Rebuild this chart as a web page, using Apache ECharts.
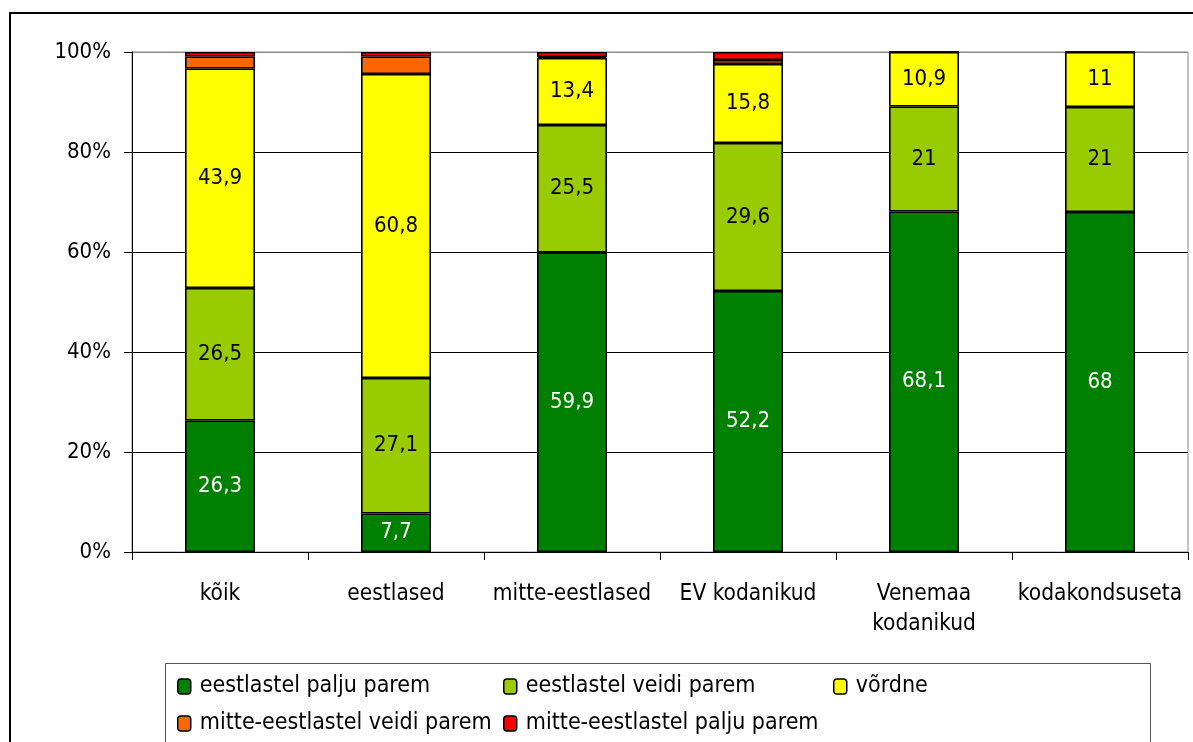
<!DOCTYPE html>
<html>
<head>
<meta charset="utf-8">
<script src="https://cdn.jsdelivr.net/npm/echarts@6/dist/echarts.min.js"></script>
<style>html,body{margin:0;padding:0;background:#fff}#c{width:1193px;height:742px}</style>
</head>
<body>
<div id="c"></div>
<script>
const categories = ['kõik', 'eestlased', 'mitte-eestlased', 'EV kodanikud', 'Venemaa\nkodanikud', 'kodakondsuseta'];
const seriesNames = ['eestlastel palju parem', 'eestlastel veidi parem', 'võrdne', 'mitte-eestlastel veidi parem', 'mitte-eestlastel palju parem'];
const paljuParem = [26.3, 7.7, 59.9, 52.2, 68.1, 68];
const veidiParem = [26.5, 27.1, 25.5, 29.6, 21, 21];
const vordne = [43.9, 60.8, 13.4, 15.8, 10.9, 11];
const mitteVeidi = [2.4, 3.5, 0.2, 0.8, 0, 0];
const mittePalju = [0.9, 0.9, 1.0, 1.6, 0, 0];
const yTicks = [0, 20, 40, 60, 80, 100];

const colors = ['#008000', '#99CC00', '#FFFF00', '#FF6600', '#FF0000'];
const values = [paljuParem, veidiParem, vordne, mitteVeidi, mittePalju];
const FONT = '"DejaVu Sans Condensed", "Liberation Sans Narrow", sans-serif';

const chart = echarts.init(document.getElementById('c'), null, {renderer: 'canvas'});
const series = values.map((v, i) => ({
  name: seriesNames[i],
  type: 'bar',
  stack: 'total',
  barWidth: 70,
  data: v,
  itemStyle: {color: colors[i], borderColor: '#000', borderWidth: 1.6},
  label: {
    show: i < 3,
    position: 'inside',
    fontFamily: FONT,
    fontSize: 22,
    color: i === 0 ? '#fff' : '#000',
    formatter: p => String(p.value).replace('.', ',')
  },
  emphasis: {disabled: true}
}));

const legendCommon = {
  orient: 'vertical', top: 670, itemGap: 14, itemWidth: 13, itemHeight: 15,
  textStyle: {fontFamily: FONT, fontSize: 23, color: '#000', padding: [0, 0, 0, 4]},
  itemStyle: {borderColor: '#000', borderWidth: 1.5}, selectedMode: false
};

chart.setOption({
  animation: false,
  backgroundColor: '#fff',
  grid: {left: 132, top: 52, right: 5, bottom: 190, show: true, borderColor: '#8c8c8c', borderWidth: 1, containLabel: false},
  xAxis: {
    type: 'category',
    data: categories,
    axisLine: {lineStyle: {color: '#000', width: 1}},
    axisTick: {show: true, length: 8, lineStyle: {color: '#000'}},
    axisLabel: {fontFamily: FONT, fontSize: 22.5, color: '#000', margin: 27, lineHeight: 30, interval: 0}
  },
  yAxis: {
    type: 'value',
    min: yTicks[0],
    max: yTicks[yTicks.length - 1],
    interval: 20,
    axisLine: {show: true, lineStyle: {color: '#000', width: 1}},
    axisTick: {show: true, length: 8, lineStyle: {color: '#000'}},
    axisLabel: {fontFamily: FONT, fontSize: 22, color: '#000', margin: 21, formatter: '{value}%'},
    splitLine: {show: true, lineStyle: {color: ['#000', '#000', '#000', '#000', '#000', '#8c8c8c'], width: 1}}
  },
  legend: [
    Object.assign({data: [seriesNames[0], seriesNames[3]], left: 172}, legendCommon),
    Object.assign({data: [seriesNames[1], seriesNames[4]], left: 498}, legendCommon),
    Object.assign({data: [seriesNames[2]], left: 828}, legendCommon)
  ],
  graphic: [
    {type: 'rect', shape: {x: 10, y: 13, width: 1250, height: 800}, style: {fill: 'none', stroke: '#000', lineWidth: 2}, z: -10},
    {type: 'rect', shape: {x: 165.5, y: 663.5, width: 985, height: 120}, style: {fill: 'none', stroke: '#555', lineWidth: 1}, z: -10}
  ],
  series: series
});
</script>
</body>
</html>
